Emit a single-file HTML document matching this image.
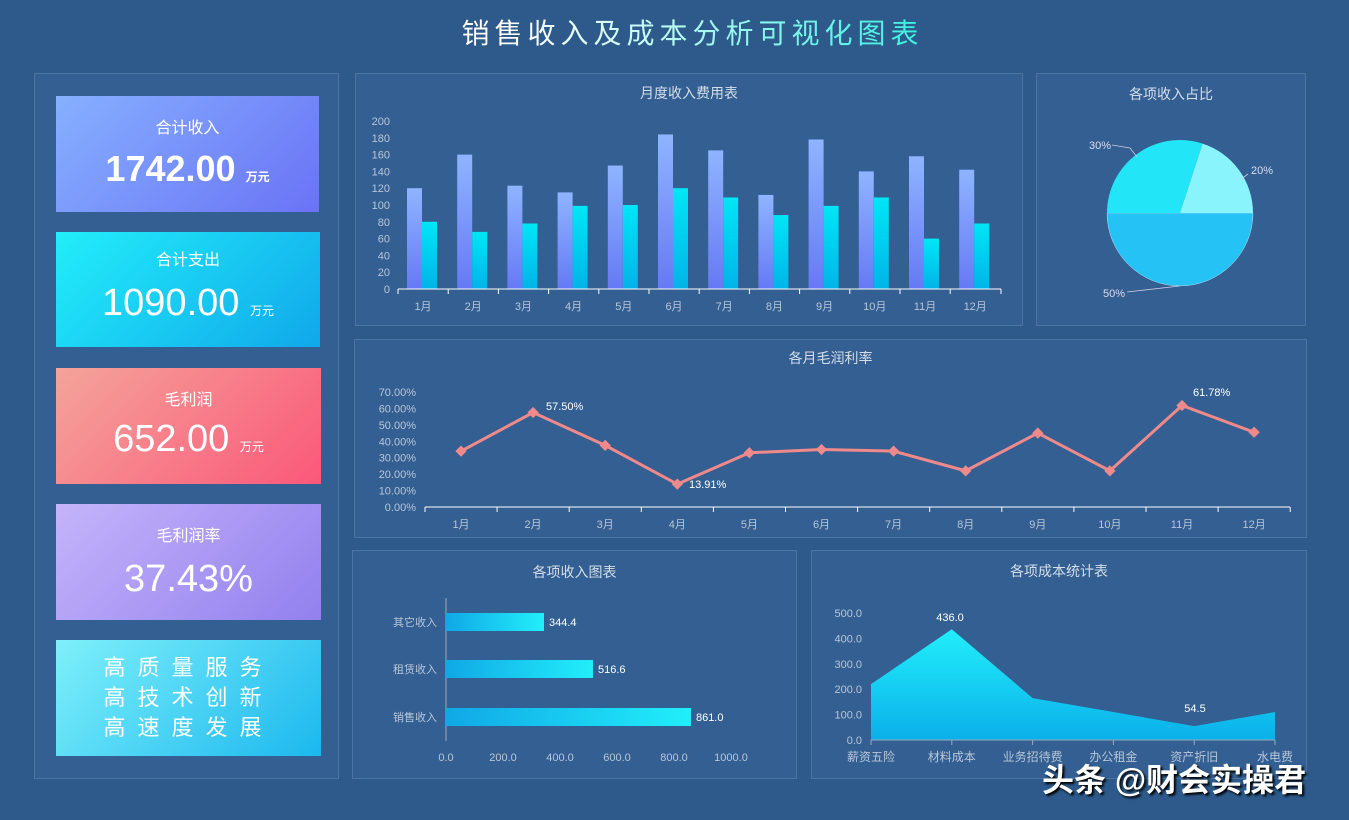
<!DOCTYPE html><html><head><meta charset="utf-8"><style>
body{margin:0;width:1349px;height:820px;background:#2d5a8a;font-family:"Liberation Sans","Noto Sans CJK SC",sans-serif;position:relative;overflow:hidden;color:#fff}
.p{position:absolute;background:#335f92;border:1px solid #4a74a3;box-sizing:border-box}
.c{position:absolute;text-align:center;box-sizing:border-box}
.t{position:absolute;color:#d5deea;font-size:14px;text-align:center}
svg{position:absolute;left:0;top:0}
</style></head><body>
<div class="c" style="left:0;top:12px;width:1385px;font-size:28px;letter-spacing:5px;background:linear-gradient(90deg,#fff 38%,#3ef0e0 66%);-webkit-background-clip:text;color:transparent">销售收入及成本分析可视化图表</div>
<div class="p" style="left:34px;top:73px;width:305px;height:706px"></div>
<div class="p" style="left:355px;top:73px;width:668px;height:253px"></div>
<div class="p" style="left:1036px;top:73px;width:270px;height:253px"></div>
<div class="p" style="left:354px;top:339px;width:953px;height:199px"></div>
<div class="p" style="left:352px;top:550px;width:445px;height:229px"></div>
<div class="p" style="left:811px;top:550px;width:496px;height:229px"></div>
<div class="c" style="left:56px;top:96px;width:263px;height:116px;background:linear-gradient(135deg,#86b0ff,#6a73f5)"><div style="margin-top:18px;font-size:16px">合计收入</div><div style="margin-top:10px;font-size:36px;font-weight:bold">1742.00 <span style="font-size:12px">万元</span></div></div>
<div class="c" style="left:56px;top:232px;width:264px;height:115px;background:linear-gradient(135deg,#22eefa,#10a8ea)"><div style="margin-top:14px;font-size:16px">合计支出</div><div style="margin-top:12px;font-size:38px">1090.00 <span style="font-size:12px">万元</span></div></div>
<div class="c" style="left:56px;top:368px;width:265px;height:116px;background:linear-gradient(135deg,#f4a49a,#fa5879)"><div style="margin-top:18px;font-size:16px">毛利润</div><div style="margin-top:8px;font-size:38px">652.00 <span style="font-size:12px">万元</span></div></div>
<div class="c" style="left:56px;top:504px;width:265px;height:116px;background:linear-gradient(135deg,#c5b4fa,#9280ee)"><div style="margin-top:18px;font-size:16px">毛利润率</div><div style="margin-top:12px;font-size:38px">37.43%</div></div>
<div class="c" style="left:56px;top:640px;width:265px;height:116px;background:linear-gradient(135deg,#7ff0fa,#1bb8ee);font-size:22px;letter-spacing:12px;line-height:30px;padding-top:13px">高质量服务<br>高技术创新<br>高速度发展</div>
<div class="t" style="left:355px;top:83px;width:668px">月度收入费用表</div>
<div class="t" style="left:1036px;top:84px;width:270px">各项收入占比</div>
<div class="t" style="left:354px;top:348px;width:953px">各月毛润利率</div>
<div class="t" style="left:352px;top:562px;width:445px">各项收入图表</div>
<div class="t" style="left:811px;top:561px;width:496px">各项成本统计表</div>
<svg width="1349" height="820" font-family="Liberation Sans,Noto Sans CJK SC,sans-serif" font-size="11">
<defs>
<linearGradient id="g1" x1="0" y1="0" x2="0" y2="1"><stop offset="0" stop-color="#8fb4ff"/><stop offset="1" stop-color="#6679f5"/></linearGradient>
<linearGradient id="g2" x1="0" y1="0" x2="0" y2="1"><stop offset="0" stop-color="#00e6f6"/><stop offset="1" stop-color="#00b4e8"/></linearGradient>
<linearGradient id="g3" x1="0" y1="0" x2="1" y2="0"><stop offset="0" stop-color="#10a8e6"/><stop offset="1" stop-color="#22eefa"/></linearGradient>
<linearGradient id="g4" x1="0" y1="0" x2="0" y2="1"><stop offset="0" stop-color="#22eefa"/><stop offset="1" stop-color="#0ab0ea"/></linearGradient>
</defs>
<g fill="#b8c6d8" text-anchor="end" id="yb"></g>
<g id="bars"></g>
<line x1="398" y1="289" x2="1001" y2="289" stroke="#fff"/>
<g id="line"></g>
<path d="M1180,213 L1253,213 A73,73 0 0 1 1107,213 Z" fill="#24c2f5" stroke="#bde" stroke-width="0.5"/>
<path d="M1180,213 L1107,213 A73,73 0 0 1 1202.6,143.6 Z" fill="#22e6f8"/>
<path d="M1180,213 L1202.6,143.6 A73,73 0 0 1 1253,213 Z" fill="#8af4fc"/>
<g fill="#dde" font-size="11"><text x="1089" y="149">30%</text><text x="1251" y="174">20%</text><text x="1103" y="297">50%</text></g>
<path d="M1112,145 L1130,148 L1137,157 M1240,180 L1248,174 M1127,292 L1180,286" stroke="#ccd" fill="none" stroke-width="0.8"/>
<g id="hb"></g>
<g id="ar"></g>
</svg>
<div style="position:absolute;left:1042px;top:755px;font-size:32px;font-weight:bold;color:#fff;text-shadow:2px 2px 2px #000">头条 @财会实操君</div>
<script>
const NS="http://www.w3.org/2000/svg";function el(p,t,a,tx){const e=document.createElementNS(NS,t);for(k in a)e.setAttribute(k,a[k]);if(tx!=null)e.textContent=tx;document.getElementById(p).appendChild(e);return e}
const inc=[120,160,123,115,147,184,165,112,178,140,158,142],cos=[80,68,78,99,100,120,109,88,99,109,60,78];
for(let v=0;v<=200;v+=20)el('yb','text',{x:390,y:293-v*0.84},v);
for(let i=0;i<12;i++){let x=398+i*50.2;el('bars','rect',{x:x+9,y:289-inc[i]*0.84,width:15,height:inc[i]*0.84,fill:'url(#g1)'});el('bars','rect',{x:x+24,y:289-cos[i]*0.84,width:15,height:cos[i]*0.84,fill:'url(#g2)'});el('bars','line',{x1:x,y1:289,x2:x,y2:294,stroke:'#fff'});el('bars','text',{x:x+25,y:310,fill:'#b8c6d8','text-anchor':'middle'},(i+1)+'月')}
el('bars','line',{x1:1001,y1:289,x2:1001,y2:294,stroke:'#fff'});
const m=[34,57.5,37.5,13.91,33,35,34,22,45,22,61.78,45.5];
for(let v=0;v<=70;v+=10)el('line','text',{x:416,y:511-v*1.643,fill:'#b8c6d8','text-anchor':'end'},v.toFixed(2)+'%');
el('line','line',{x1:425,y1:507,x2:1290,y2:507,stroke:'#fff'});
let pts=m.map((v,i)=>[461+72.1*i,507-v*1.643]);
for(let i=0;i<=12;i++)el('line','line',{x1:425+72.1*i,y1:507,x2:425+72.1*i,y2:512,stroke:'#fff'});
el('line','polyline',{points:pts.map(p=>p.join(',')).join(' '),fill:'none',stroke:'#f08a8a','stroke-width':3});
pts.forEach((p,i)=>{el('line','rect',{x:p[0]-4,y:p[1]-4,width:8,height:8,fill:'#f08a8a',transform:`rotate(45 ${p[0]} ${p[1]})`});el('line','text',{x:p[0],y:528,fill:'#b8c6d8','text-anchor':'middle'},(i+1)+'月')});
el('line','text',{x:546,y:410,fill:'#fff'},'57.50%');el('line','text',{x:689,y:488,fill:'#fff'},'13.91%');el('line','text',{x:1193,y:396,fill:'#fff'},'61.78%');
const hv=[[344.4,622,'其它收入'],[516.6,669,'租赁收入'],[861.0,717,'销售收入']];
el('hb','line',{x1:446,y1:598,x2:446,y2:741,stroke:'#aab'});
hv.forEach(h=>{el('hb','rect',{x:446,y:h[1]-9,width:h[0]*0.2845,height:18,fill:'url(#g3)'});el('hb','text',{x:451+h[0]*0.2845,y:h[1]+4,fill:'#fff'},h[0].toFixed(1));el('hb','text',{x:437,y:h[1]+4,fill:'#b8c6d8','text-anchor':'end'},h[2])});
for(let i=0;i<=5;i++)el('hb','text',{x:446+i*57,y:761,fill:'#b8c6d8','text-anchor':'middle'},(i*200).toFixed(1));
const av=[220,436,165,110,54.5,110],an=['薪资五险','材料成本','业务招待费','办公租金','资产折旧','水电费'];
let ap=av.map((v,i)=>[871+80.8*i,740-v*0.254]);
el('ar','polygon',{points:'871,740 '+ap.map(p=>p.join(',')).join(' ')+' 1275,740',fill:'url(#g4)'});
el('ar','line',{x1:871,y1:740,x2:1275,y2:740,stroke:'#9ab'});
for(let v=0;v<=500;v+=100)el('ar','text',{x:862,y:744-v*0.254,fill:'#b8c6d8','text-anchor':'end'},v.toFixed(1));
ap.forEach((p,i)=>{el('ar','line',{x1:p[0],y1:740,x2:p[0],y2:745,stroke:'#9ab'});el('ar','text',{x:p[0],y:761,fill:'#b8c6d8','text-anchor':'middle','font-size':12},an[i])});
el('ar','text',{x:950,y:621,fill:'#fff','text-anchor':'middle'},'436.0');el('ar','text',{x:1195,y:712,fill:'#fff','text-anchor':'middle'},'54.5');
</script>
</body></html>
